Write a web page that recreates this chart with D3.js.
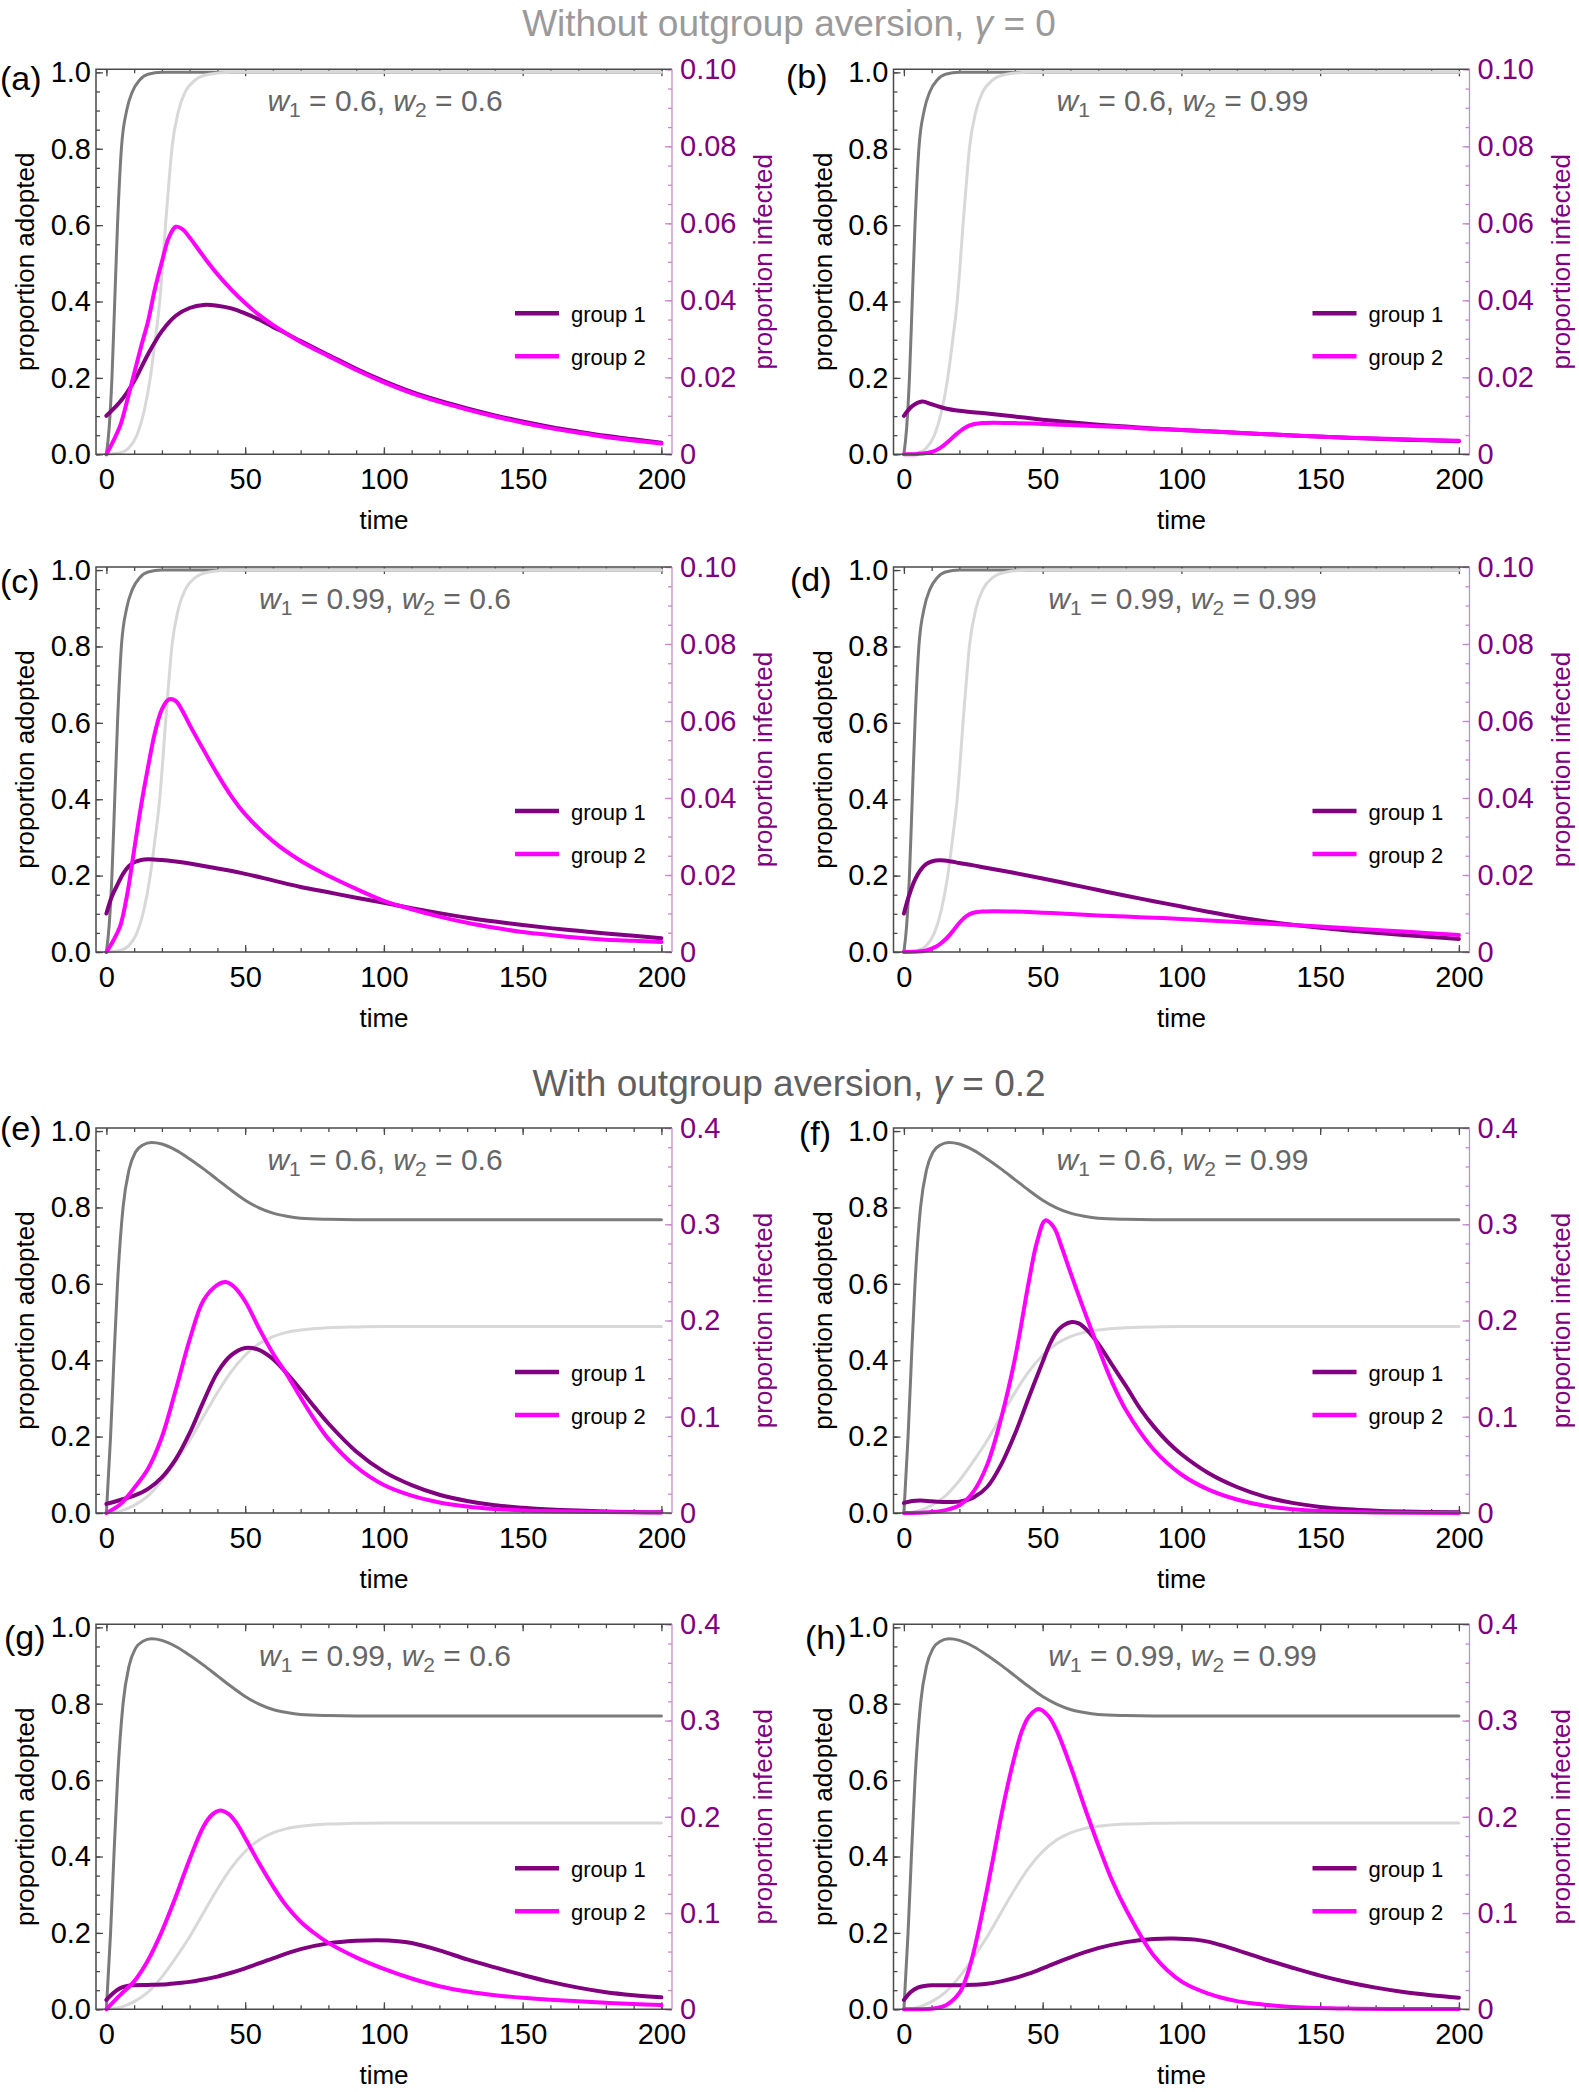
<!DOCTYPE html>
<html>
<head>
<meta charset="utf-8">
<title>Adoption and infection over time</title>
<script src="https://cdn.jsdelivr.net/npm/d3@7.9.0/dist/d3.min.js"></script>
<style>
  body { margin: 0; background: #fff; }
  svg { display: block; font-family: "Liberation Sans", Arial, sans-serif; }
</style>
</head>
<body>
<svg id="fig" width="1579" height="2092"></svg>
<script>
// ---- values, as [time, value] ----
const timeTicks = [0, 50, 100, 150, 200];
const adoptTicks = [0, 0.2, 0.4, 0.6, 0.8, 1.0];
const infTicksNoAversion = [0, 0.02, 0.04, 0.06, 0.08, 0.1];
const infTicksAversion = [0, 0.1, 0.2, 0.3, 0.4];

const panelLetters = ["(a)", "(b)", "(c)", "(d)", "(e)", "(f)", "(g)", "(h)"];
const w1Labels = ["0.6", "0.6", "0.99", "0.99", "0.6", "0.6", "0.99", "0.99"];
const w2Labels = ["0.6", "0.99", "0.6", "0.99", "0.6", "0.99", "0.6", "0.99"];
const groupLabels = ["group 1", "group 2"];

// proportion adopted (grey curves)
const adoptG1NoAversion = [[0,0],[1,0.07],[2,0.2],[3,0.4],[4,0.6],[5.4,0.8],[7.3,0.9],[9.4,0.95],[12,0.98],[15,0.995],[20,1],[200,1]];
const adoptG2NoAversion = [[0,0],[5,0.004],[8,0.016],[11,0.05],[13.5,0.11],[15.8,0.2],[17.6,0.3],[19.2,0.4],[20.3,0.5],[21.3,0.6],[22.4,0.7],[23.6,0.8],[26,0.9],[28.5,0.95],[32,0.98],[37,0.995],[45,1],[200,1]];
const adoptG1Aversion = [[0,0],[1.5,0.2],[2.7,0.4],[4,0.6],[6,0.8],[8.2,0.9],[10.5,0.945],[13,0.963],[16.3,0.97],[20,0.966],[25,0.95],[30,0.927],[35,0.901],[40,0.873],[45,0.845],[50,0.819],[55,0.799],[60,0.785],[65,0.777],[70,0.772],[80,0.769],[90,0.768],[200,0.768]];
const adoptG2Aversion = [[0,0],[5,0.005],[10,0.02],[15,0.045],[20,0.085],[25,0.135],[30,0.19],[35,0.253],[40,0.315],[45,0.37],[50,0.413],[55,0.443],[60,0.462],[65,0.473],[70,0.479],[80,0.485],[90,0.487],[100,0.488],[200,0.488]];

// proportion infected (right axis), group 1 and group 2 per panel
const infA1 = [[0,0.010],[5,0.0137],[10,0.019],[15,0.026],[20,0.032],[25,0.036],[30,0.038],[35,0.0388],[40,0.0386],[45,0.0379],[50,0.0366],[55,0.035],[60,0.0331],[65,0.0313],[70,0.0294],[80,0.0258],[90,0.0222],[100,0.019],[110,0.0162],[120,0.0139],[130,0.0119],[140,0.0101],[150,0.0085],[160,0.0071],[170,0.0059],[180,0.0048],[190,0.0039],[200,0.003]];
const infA2 = [[0,0],[2.5,0.0035],[5,0.0075],[7.5,0.014],[10,0.021],[12.5,0.028],[15,0.0345],[17.5,0.043],[20,0.050],[22.5,0.0563],[25,0.0591],[27.5,0.0584],[30,0.0563],[35,0.0514],[40,0.0468],[45,0.0428],[50,0.0393],[55,0.0362],[60,0.0336],[65,0.0313],[70,0.0292],[80,0.0255],[90,0.0219],[100,0.0187],[110,0.0159],[120,0.0136],[130,0.0116],[140,0.0098],[150,0.0082],[160,0.0068],[170,0.0056],[180,0.0045],[190,0.0036],[200,0.0028]];
const infB1 = [[0,0.010],[3,0.0125],[6.5,0.0137],[10,0.013],[15,0.0119],[20,0.0113],[30,0.0106],[40,0.0098],[50,0.009],[60,0.0083],[70,0.0077],[80,0.0072],[90,0.0067],[100,0.0063],[120,0.0056],[140,0.0049],[160,0.0043],[180,0.0038],[200,0.0034]];
const infB2 = [[0,0],[5,0.0001],[10,0.0006],[13,0.0016],[16,0.0033],[19,0.0053],[22,0.0069],[25,0.0078],[28,0.0081],[32,0.0082],[40,0.0081],[50,0.0079],[60,0.0076],[70,0.0073],[80,0.007],[90,0.0066],[100,0.0063],[120,0.0056],[140,0.0049],[160,0.0043],[180,0.0039],[200,0.0035]];
const infC1 = [[0,0.010],[2,0.0145],[4,0.0175],[6,0.0203],[8,0.0222],[10,0.0233],[12.5,0.0239],[15,0.0241],[20,0.0239],[25,0.0235],[30,0.023],[40,0.0217],[50,0.0203],[60,0.0186],[70,0.0169],[80,0.0155],[90,0.0141],[100,0.0128],[110,0.0114],[120,0.0101],[130,0.0089],[140,0.0079],[150,0.007],[160,0.0062],[170,0.0055],[180,0.0048],[190,0.0042],[200,0.0036]];
const infC2 = [[0,0],[2.5,0.003],[5,0.0068],[7.5,0.015],[10,0.0265],[12.5,0.038],[15,0.048],[17.5,0.057],[20,0.063],[22.5,0.0656],[25,0.0652],[27.5,0.0625],[30,0.059],[35,0.0525],[40,0.0462],[45,0.0405],[50,0.0358],[60,0.0288],[70,0.0237],[80,0.0198],[90,0.0164],[100,0.0133],[110,0.0111],[120,0.0092],[130,0.0076],[140,0.0063],[150,0.0052],[160,0.0044],[170,0.0037],[180,0.0032],[190,0.0029],[200,0.0026]];
const infD1 = [[0,0.010],[2,0.015],[4,0.0188],[6,0.0213],[8,0.0228],[10,0.0235],[13,0.0238],[17,0.0235],[20,0.0231],[25,0.0225],[30,0.0218],[40,0.0205],[50,0.0191],[60,0.0176],[70,0.0161],[80,0.0146],[90,0.0132],[100,0.0118],[110,0.0104],[120,0.0091],[130,0.008],[140,0.0071],[150,0.0063],[160,0.0056],[170,0.005],[180,0.0044],[190,0.0039],[200,0.0034]];
const infD2 = [[0,0],[5,0.0001],[8,0.0004],[10,0.0009],[12.5,0.0018],[15,0.0033],[17.5,0.0053],[20,0.0076],[22.5,0.0093],[25,0.0102],[28,0.0105],[32,0.0106],[40,0.0105],[50,0.0102],[60,0.0099],[70,0.0095],[80,0.0092],[90,0.0089],[100,0.0086],[120,0.0078],[140,0.007],[160,0.0062],[180,0.0053],[200,0.0044]];
const infE1 = [[0,0.0095],[5,0.0135],[10,0.018],[15,0.025],[20,0.037],[25,0.056],[30,0.083],[35,0.116],[40,0.146],[45,0.164],[50,0.1715],[55,0.1695],[60,0.16],[65,0.145],[70,0.128],[75,0.11],[80,0.093],[90,0.064],[100,0.043],[110,0.029],[120,0.019],[130,0.0125],[140,0.008],[150,0.0055],[160,0.0037],[170,0.0025],[180,0.0016],[190,0.001],[200,0.0007]];
const infE2 = [[0,0],[5,0.009],[10,0.026],[15,0.046],[20,0.079],[25,0.128],[30,0.18],[35,0.221],[40,0.237],[43,0.24],[46,0.235],[50,0.22],[55,0.192],[60,0.166],[65,0.144],[70,0.12],[75,0.097],[80,0.077],[90,0.048],[100,0.029],[110,0.018],[120,0.011],[130,0.0068],[140,0.0042],[150,0.0027],[160,0.0018],[180,0.001],[200,0.0006]];
const infF1 = [[0,0.0105],[3,0.0125],[6,0.013],[10,0.0122],[15,0.0115],[20,0.0118],[25,0.016],[30,0.027],[35,0.05],[40,0.082],[45,0.12],[50,0.157],[52.5,0.175],[55,0.188],[57.5,0.195],[60.5,0.1985],[63,0.197],[66,0.19],[70,0.176],[75,0.154],[80,0.132],[85,0.109],[90,0.09],[95,0.074],[100,0.061],[110,0.041],[120,0.027],[130,0.017],[140,0.0105],[150,0.0063],[160,0.0038],[170,0.0024],[180,0.0016],[200,0.0007]];
const infF2 = [[0,0],[5,0.0003],[10,0.001],[15,0.003],[20,0.008],[25,0.022],[30,0.05],[35,0.098],[40,0.16],[45,0.24],[48,0.282],[51,0.304],[54,0.297],[57,0.275],[60,0.25],[65,0.21],[70,0.172],[75,0.136],[80,0.107],[90,0.066],[100,0.04],[110,0.024],[120,0.014],[130,0.0075],[140,0.004],[150,0.002],[170,0.0006],[200,0.0001]];
const infG1 = [[0,0.0097],[2.5,0.017],[5,0.022],[7.5,0.0243],[10,0.025],[15,0.0253],[20,0.0258],[25,0.027],[30,0.0285],[35,0.031],[40,0.034],[45,0.038],[50,0.0425],[60,0.053],[70,0.0625],[80,0.0685],[90,0.0712],[98,0.0718],[105,0.0708],[110,0.0688],[120,0.0612],[130,0.0518],[140,0.0435],[150,0.0357],[160,0.0285],[170,0.0225],[180,0.0178],[190,0.0147],[200,0.0124]];
const infG2 = [[0,0],[5,0.015],[10,0.029],[15,0.051],[20,0.081],[25,0.117],[30,0.156],[35,0.19],[38,0.202],[41,0.2066],[44,0.203],[47,0.193],[50,0.178],[55,0.152],[60,0.128],[65,0.107],[70,0.091],[75,0.079],[80,0.069],[90,0.054],[100,0.042],[110,0.032],[120,0.024],[130,0.0185],[140,0.0147],[150,0.012],[160,0.0099],[170,0.0083],[180,0.0068],[190,0.0055],[200,0.0045]];
const infH1 = [[0,0.0097],[2.5,0.018],[5,0.0225],[7.5,0.0243],[10,0.025],[15,0.025],[20,0.025],[25,0.0255],[30,0.0265],[35,0.029],[40,0.0325],[45,0.037],[50,0.0425],[60,0.054],[70,0.0635],[80,0.0698],[90,0.0731],[97,0.0736],[105,0.0724],[110,0.07],[120,0.0615],[130,0.052],[140,0.0432],[150,0.035],[160,0.0281],[170,0.0225],[180,0.018],[190,0.0147],[200,0.0121]];
const infH2 = [[0,0],[5,0.0001],[10,0.0006],[15,0.004],[20,0.017],[22.5,0.033],[25,0.058],[27.5,0.09],[30,0.125],[32.5,0.162],[35,0.2],[37.5,0.234],[40,0.264],[42.5,0.289],[45,0.304],[48.5,0.312],[52,0.305],[55,0.29],[60,0.253],[65,0.211],[70,0.171],[75,0.134],[80,0.104],[90,0.056],[100,0.029],[110,0.016],[120,0.0085],[130,0.0048],[140,0.0025],[160,0.0008],[200,0.0002]];

const infGroup1 = [infA1, infB1, infC1, infD1, infE1, infF1, infG1, infH1];
const infGroup2 = [infA2, infB2, infC2, infD2, infE2, infF2, infG2, infH2];

// ---- layout ----
const svg = d3.select("#fig");
const panelW = 576, panelH = 385;
const colX = [96, 893.5];
const rowY = [69.3, 567, 1128, 1624.3];
const letterPos = [[0, 21], [786, 19], [0, 26], [790, 24], [0, 12], [799, 17], [4, 25], [805, 25]];

const darkGrey = "#7b7b7b", lightGrey = "#d8d8d8";
const purple = "#800080", magenta = "#ff00ff";
const frameInk = "#4a4a4a", rightInk = "#c98ac9";

function title(y, fill, before, after) {
  const t = svg.append("text")
    .attr("x", 789).attr("y", y)
    .attr("text-anchor", "middle")
    .attr("font-size", 37)
    .attr("fill", fill);
  t.append("tspan").text(before);
  t.append("tspan").attr("font-style", "italic").text("γ");
  t.append("tspan").text(after);
}
title(36, "#9a9a9a", "Without outgroup aversion, ", " = 0");
title(1096, "#5f5f5f", "With outgroup aversion, ", " = 0.2");

function styleAxis(sel, ink, labelInk) {
  sel.attr("font-family", null).attr("font-size", 29);
  sel.select(".domain").remove();
  sel.selectAll(".tick line").attr("stroke", ink).attr("stroke-width", 1.3);
  sel.selectAll(".tick text").attr("fill", labelInk || "#000");
}

panelLetters.forEach((letter, i) => {
  const aversion = i >= 4;
  const fl = colX[i % 2], ft = rowY[Math.floor(i / 2)];
  const fr = fl + panelW, fb = ft + panelH;
  const infTicks = aversion ? infTicksAversion : infTicksNoAversion;
  const infStep = aversion ? 0.02 : 0.005;

  const x = d3.scaleLinear().domain([0, 200]).range([fl + 10.4, fr - 10.6]);
  const yA = d3.scaleLinear().domain([0, 1.008]).range([fb, ft]);
  const yI = d3.scaleLinear().domain([0, infTicks[infTicks.length - 1]]).range([fb, ft]);

  const g = svg.append("g");

  // ticks
  g.append("g").attr("transform", `translate(0,${fb})`)
    .call(d3.axisBottom(x).tickValues(d3.range(0, 201, 10)).tickSize(-4).tickFormat(""))
    .call(styleAxis, frameInk);
  g.append("g").attr("transform", `translate(0,${fb})`)
    .call(d3.axisBottom(x).tickValues(timeTicks).tickSize(-7).tickPadding(14))
    .call(styleAxis, frameInk);
  g.append("g").attr("transform", `translate(0,${ft})`)
    .call(d3.axisTop(x).tickValues(d3.range(0, 201, 10)).tickSize(-4).tickFormat(""))
    .call(styleAxis, frameInk);
  g.append("g").attr("transform", `translate(0,${ft})`)
    .call(d3.axisTop(x).tickValues(timeTicks).tickSize(-7).tickFormat(""))
    .call(styleAxis, frameInk);
  g.append("g").attr("transform", `translate(${fl},0)`)
    .call(d3.axisLeft(yA).tickValues(d3.range(0, 1.001, 0.05)).tickSize(-4).tickFormat(""))
    .call(styleAxis, frameInk);
  g.append("g").attr("transform", `translate(${fl},0)`)
    .call(d3.axisLeft(yA).tickValues(adoptTicks).tickSize(-7).tickPadding(5).tickFormat(d3.format(".1f")))
    .call(styleAxis, frameInk);
  g.append("g").attr("transform", `translate(${fr},0)`)
    .call(d3.axisRight(yI).tickValues(d3.range(0, infTicks[infTicks.length - 1] + 1e-9, infStep)).tickSize(-4).tickFormat(""))
    .call(styleAxis, rightInk);
  g.append("g").attr("transform", `translate(${fr},0)`)
    .call(d3.axisRight(yI).tickValues(infTicks).tickSize(-7).tickPadding(8)
      .tickFormat(d => d === 0 ? "0" : d3.format(aversion ? ".1f" : ".2f")(d)))
    .call(styleAxis, rightInk, purple);

  // curves
  const lineA = d3.line().x(d => x(d[0])).y(d => yA(d[1])).curve(d3.curveMonotoneX);
  const lineI = d3.line().x(d => x(d[0])).y(d => yI(d[1])).curve(d3.curveCatmullRom.alpha(0.5));
  const curves = g.append("g").attr("fill", "none").attr("stroke-linejoin", "round").attr("stroke-linecap", "round");
  curves.append("path").attr("d", lineA(aversion ? adoptG1Aversion : adoptG1NoAversion))
    .attr("stroke", darkGrey).attr("stroke-width", 3);
  curves.append("path").attr("d", lineA(aversion ? adoptG2Aversion : adoptG2NoAversion))
    .attr("stroke", lightGrey).attr("stroke-width", 3);
  curves.append("path").attr("d", lineI(infGroup1[i]))
    .attr("stroke", purple).attr("stroke-width", 4);
  curves.append("path").attr("d", lineI(infGroup2[i]))
    .attr("stroke", magenta).attr("stroke-width", 4);

  // frame
  g.append("path").attr("d", `M${fr},${ft}H${fl}V${fb}H${fr}`)
    .attr("fill", "none").attr("stroke", frameInk).attr("stroke-width", 1.5);
  g.append("line").attr("x1", fr).attr("x2", fr).attr("y1", ft).attr("y2", fb)
    .attr("stroke", rightInk).attr("stroke-width", 1.3);

  // axis labels
  g.append("text")
    .attr("transform", `translate(${fl - 71},${(ft + fb) / 2}) rotate(-90)`)
    .attr("dy", "0.35em").attr("text-anchor", "middle").attr("font-size", 26)
    .text("proportion adopted");
  g.append("text")
    .attr("transform", `translate(${fr + 91},${(ft + fb) / 2}) rotate(-90)`)
    .attr("dy", "0.35em").attr("text-anchor", "middle").attr("font-size", 26)
    .attr("fill", purple)
    .text("proportion infected");
  g.append("text")
    .attr("x", (fl + fr) / 2).attr("y", fb + 75)
    .attr("text-anchor", "middle").attr("font-size", 26)
    .text("time");

  // panel letter
  g.append("text")
    .attr("x", letterPos[i][0]).attr("y", ft + letterPos[i][1])
    .attr("font-size", 34)
    .text(letter);

  // parameter annotation
  const note = g.append("text")
    .attr("x", (fl + fr) / 2 + 1).attr("y", ft + 42)
    .attr("text-anchor", "middle").attr("font-size", 30).attr("fill", "#666");
  note.append("tspan").attr("font-style", "italic").text("w");
  note.append("tspan").attr("font-size", 21).attr("dy", 6).text("1");
  note.append("tspan").attr("dy", -6).text(` = ${w1Labels[i]}, `);
  note.append("tspan").attr("font-style", "italic").text("w");
  note.append("tspan").attr("font-size", 21).attr("dy", 6).text("2");
  note.append("tspan").attr("dy", -6).text(` = ${w2Labels[i]}`);

  // legend
  const legend = g.append("g");
  [purple, magenta].forEach((c, k) => {
    const ly = ft + 244 + k * 43;
    legend.append("line")
      .attr("x1", fl + 419).attr("x2", fl + 463).attr("y1", ly).attr("y2", ly)
      .attr("stroke", c).attr("stroke-width", 4.5);
    legend.append("text")
      .attr("x", fl + 475).attr("y", ly + 9)
      .attr("font-size", 22)
      .text(groupLabels[k]);
  });
});
</script>
</body>
</html>
